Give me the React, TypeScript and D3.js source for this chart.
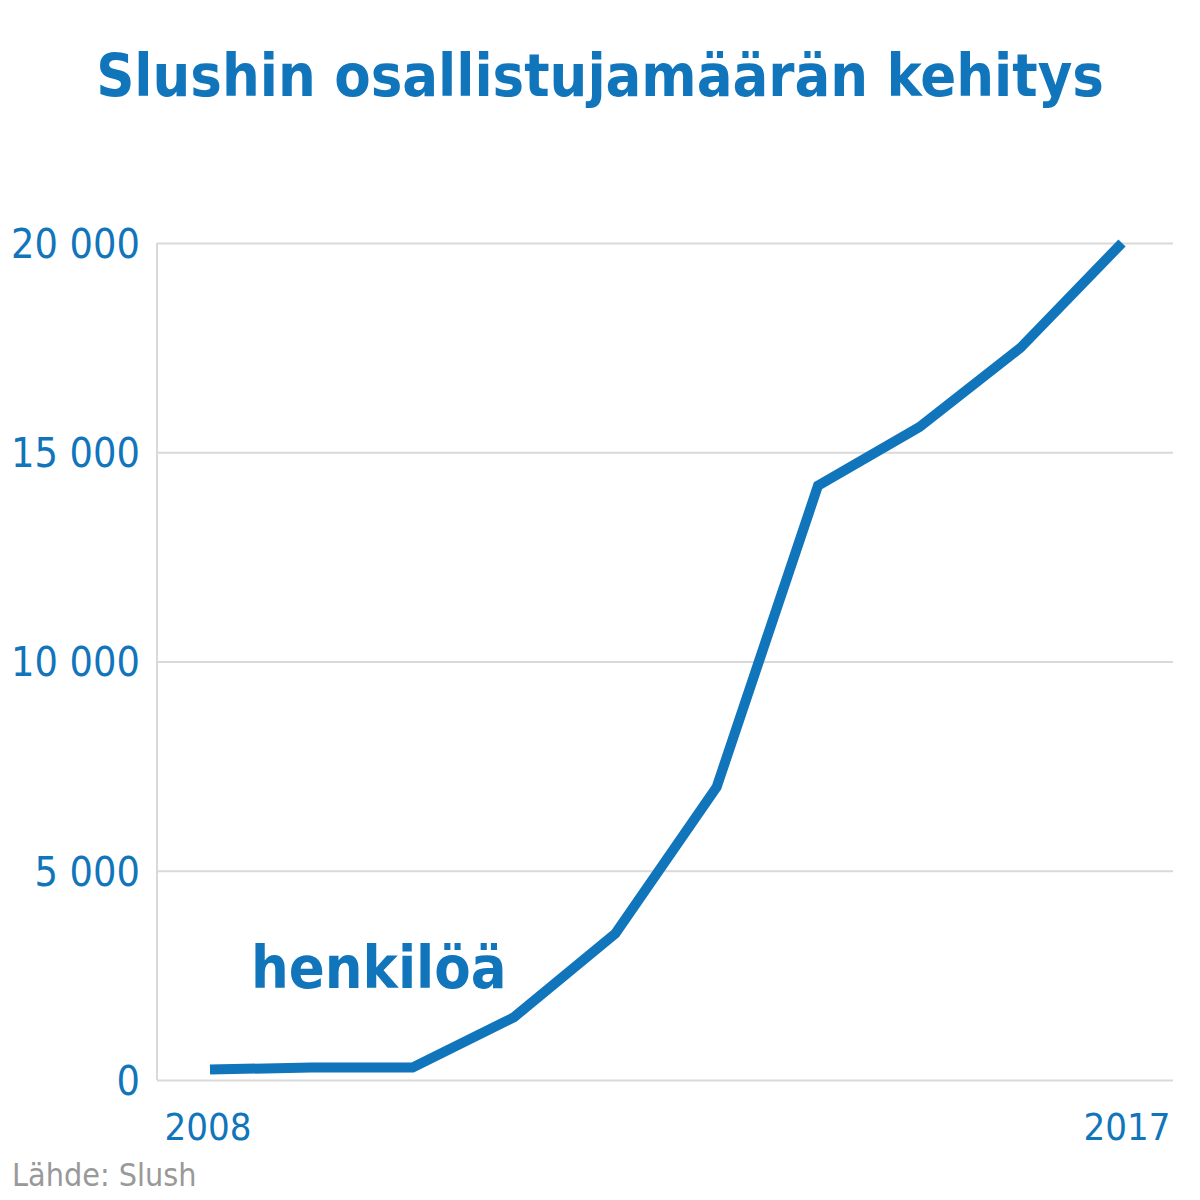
import React, { useEffect, useRef } from 'react'
import * as d3 from 'd3'

const years = [2008, 2009, 2010, 2011, 2012, 2013, 2014, 2015, 2016, 2017]
const attendees = [250, 300, 300, 1500, 3500, 7000, 14200, 15600, 17500, 20000]
const yTicks = [0, 5000, 10000, 15000, 20000]
const xTickYears = [2008, 2017]

const BLUE = '#1175bb'
const FONT = '"Liberation Sans Narrow", "DejaVu Sans Condensed", "Open Sans", sans-serif'

export default function App() {
  const svgRef = useRef(null)
  const width = 1200
  const height = 1200
  const margin = { top: 243, right: 27, bottom: 120, left: 157 }

  useEffect(() => {
    const svgEl = d3.select(svgRef.current)
    svgEl.selectAll('*').remove()

    const x = d3.scaleLinear().domain([2008, 2017]).range([210, 1122])
    const y = d3.scaleLinear().domain([0, 20000]).range([height - margin.bottom, margin.top])

    // title
    svgEl
      .append('text')
      .attr('x', 600)
      .attr('y', 96)
      .attr('text-anchor', 'middle')
      .style('font-family', FONT)
      .style('font-weight', 'bold')
      .style('font-size', '59px')
      .style('fill', BLUE)
      .text('Slushin osallistujamäärän kehitys')

    // grid
    const yAxisGroup = svgEl
      .append('g')
      .attr('transform', `translate(${margin.left}, 0)`)
      .call(
        d3
          .axisLeft(y)
          .tickValues(yTicks)
          .tickSize(-(width - margin.left - margin.right))
          .tickPadding(17)
          .tickFormat((v) => d3.format(',')(v as number).replace(',', ' '))
      )
    yAxisGroup.select('.domain').remove()
    yAxisGroup.selectAll('line').attr('stroke', '#d9d9d9').attr('stroke-width', 2)
    yAxisGroup
      .selectAll('text')
      .style('font-family', FONT)
      .style('font-size', '41px')
      .attr('fill', BLUE)
      .attr('dy', '0.35em')

    // left axis line
    svgEl
      .append('line')
      .attr('x1', margin.left)
      .attr('x2', margin.left)
      .attr('y1', y(20000))
      .attr('y2', y(0))
      .attr('stroke', '#d9d9d9')
      .attr('stroke-width', 2)

    // x labels
    svgEl
      .append('g')
      .selectAll('text')
      .data(xTickYears)
      .enter()
      .append('text')
      .attr('x', (d) => x(d) + (d === 2017 ? 5 : -2))
      .attr('y', 1140)
      .attr('text-anchor', 'middle')
      .style('font-family', FONT)
      .style('font-size', '38px')
      .style('fill', BLUE)
      .text((d) => d)

    // line
    const data = years.map((yr, i) => ({ yr, v: attendees[i] }))
    svgEl
      .append('path')
      .datum(data)
      .attr('fill', 'none')
      .attr('stroke', BLUE)
      .attr('stroke-width', 10)
      .attr('stroke-linejoin', 'miter')
      .attr(
        'd',
        d3
          .line<{ yr: number; v: number }>()
          .x((d) => x(d.yr))
          .y((d) => y(d.v))
      )

    // unit label
    svgEl
      .append('text')
      .attr('x', 251)
      .attr('y', 988)
      .style('font-family', FONT)
      .style('font-weight', 'bold')
      .style('font-size', '59px')
      .style('fill', BLUE)
      .text('henkilöä')

    // source
    svgEl
      .append('text')
      .attr('x', 12)
      .attr('y', 1186)
      .style('font-family', FONT)
      .style('font-size', '32px')
      .style('fill', '#999999')
      .text('Lähde: Slush')
  }, [])

  return (
    <svg
      ref={svgRef}
      width={width}
      height={height}
      style={{ position: 'absolute', left: 0, top: 0, background: '#fff' }}
    />
  )
}
